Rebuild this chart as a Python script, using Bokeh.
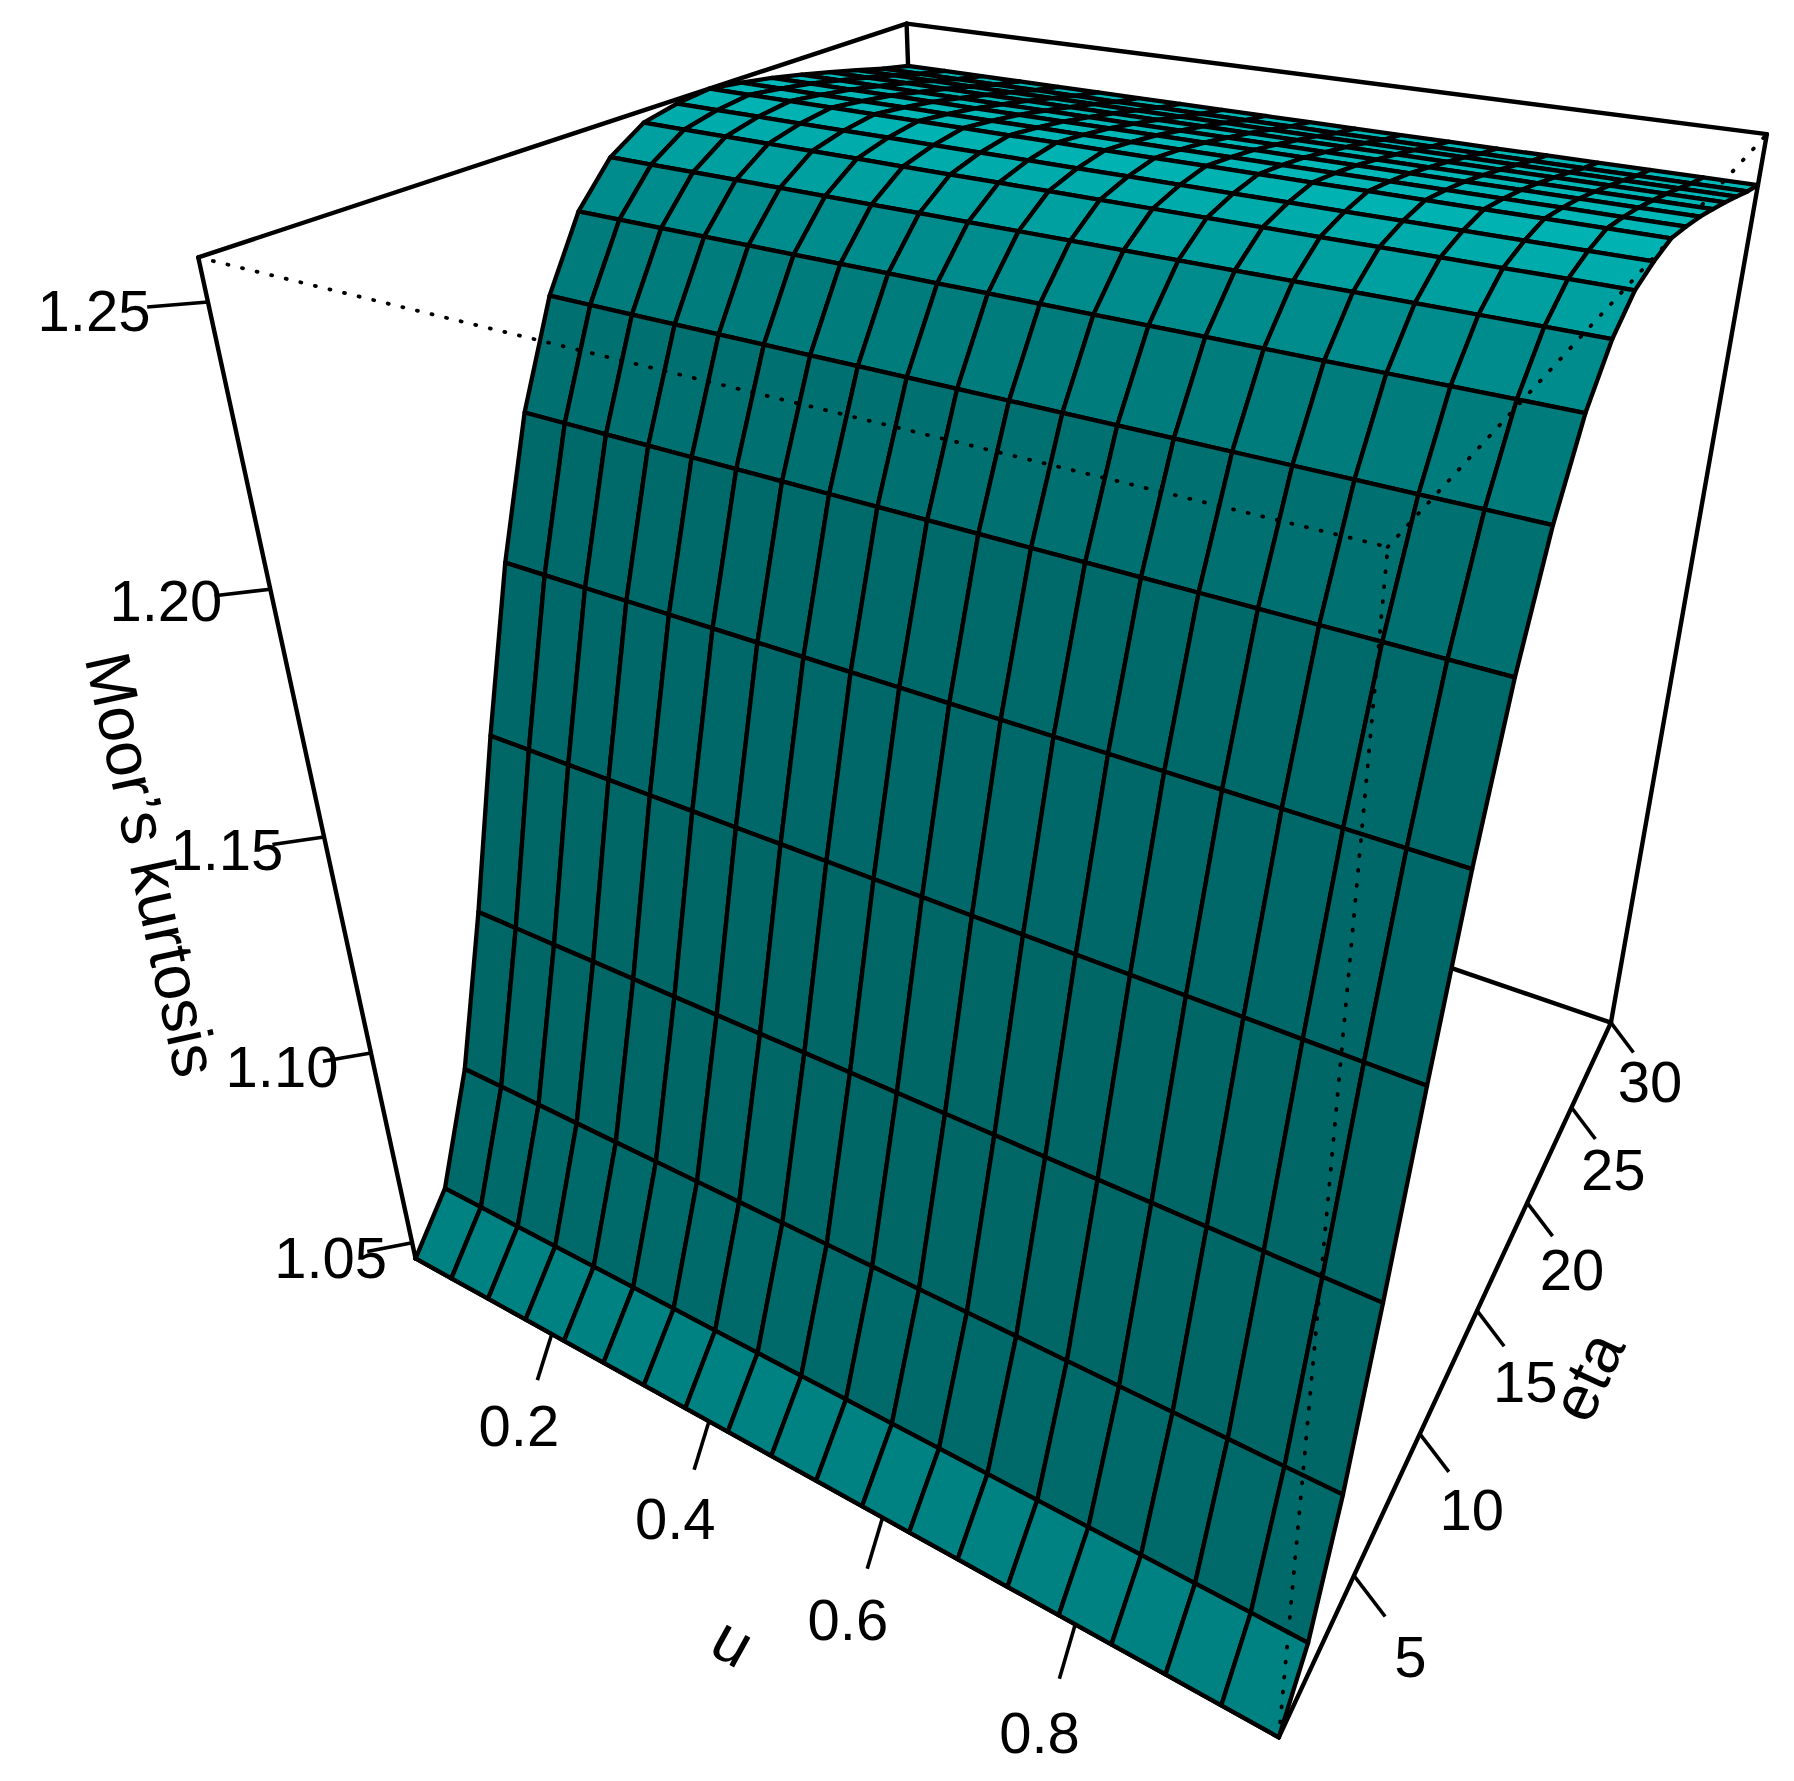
import math
import numpy as np
from bokeh.plotting import figure
from bokeh.embed import file_html
from bokeh.resources import INLINE
from bokeh.core.properties import value
from bokeh.models import Range1d

# ---- data ----
u_grid = [0.0100,0.0616,0.1132,0.1647,0.2163,0.2679,0.3195,0.3711,0.4226,0.4742,
          0.5258,0.5774,0.6289,0.6805,0.7321,0.7837,0.8353,0.8868,0.9384,0.9900]
eta_grid = [0.10,1.67,3.25,4.82,6.39,7.97,9.54,11.12,12.69,14.26,
            15.84,17.41,18.98,20.56,22.13,23.70,25.28,26.85,28.43,30.00]
kurtosis = [1.0456,1.0560,1.0799,1.1128,1.1487,1.1820,1.2092,1.2291,1.2426,1.2505,
            1.2548,1.2563,1.2571,1.2562,1.2551,1.2537,1.2522,1.2506,1.2489,1.2475]
u_ticks = [0.2,0.4,0.6,0.8]
u_tick_labels = ["0.2","0.4","0.6","0.8"]
eta_ticks = [5,10,15,20,25,30]
eta_tick_labels = ["5","10","15","20","25","30"]
z_ticks = [1.05,1.10,1.15,1.20,1.25]
z_tick_labels = ["1.05","1.10","1.15","1.20","1.25"]

# ---- style ----
row_colors = ["#008282","#006A6A","#006666","#006666","#006868","#006A6A","#007070","#007C7C","#008C8C","#00A0A0",
              "#00ABAB","#00B2B2","#00B6B6","#00B8B8","#00B8B8","#00B8B8","#00B8B8","#00B8B8","#00B8B8"]
FONT = "Liberation Sans"
W, H = 1778, 1765

# ---- camera: persp() style projective view of the unit box ----
CAM = np.array([[580.90784, 875.16853, -267.51621, 415.06388],
                [95.29213, -165.59433, -1066.28461, 1257.94661],
                [-0.22086, 0.38275, -0.25403, 1.0]])
umin, umax = min(u_grid), max(u_grid)
emin, emax = min(eta_grid), max(eta_grid)
zmin, zmax = min(kurtosis), max(kurtosis)
def cu(v): return (v-umin)/(umax-umin)
def ce(v): return (v-emin)/(emax-emin)
def cz(v): return (v-zmin)/(zmax-zmin)
def proj(a, b, c):
    v = CAM @ np.array([a, b, c, 1.0])
    return v[0]/v[2], 1781 - v[1]/v[2]
def seg(p, q):
    a, b = proj(*p), proj(*q)
    return [a[0], b[0]], [a[1], b[1]]
def ang(p, q):
    a, b = proj(*p), proj(*q)
    return math.atan2(b[1]-a[1], b[0]-a[0])

p = figure(width=W, height=H, output_backend="svg", toolbar_location=None,
           x_range=Range1d(0, W), y_range=Range1d(1781-H, 1781), min_border=0)
p.axis.visible = False
p.grid.visible = False
p.outline_line_color = None

# solid box edges
solid = [((0,0,0),(1,0,0)),((1,0,0),(1,1,0)),((1,1,0),(0,1,0)),((0,1,0),(0,0,0)),
         ((0,0,0),(0,0,1)),((1,1,0),(1,1,1)),((0,1,0),(0,1,1)),
         ((0,0,1),(0,1,1)),((0,1,1),(1,1,1))]
xs, ys = zip(*[seg(a,b) for a,b in solid])
p.multi_line(list(xs), list(ys), line_color="black", line_width=4.4, line_join="round", line_cap="round")

# surface, back to front
fx, fy, fc = [], [], []
for j in range(len(eta_grid)-2, -1, -1):
    for i in range(len(u_grid)-1):
        corners = [(cu(u_grid[i]), ce(eta_grid[j]), cz(kurtosis[j])),
                   (cu(u_grid[i+1]), ce(eta_grid[j]), cz(kurtosis[j])),
                   (cu(u_grid[i+1]), ce(eta_grid[j+1]), cz(kurtosis[j+1])),
                   (cu(u_grid[i]), ce(eta_grid[j+1]), cz(kurtosis[j+1]))]
        pts = [proj(*c) for c in corners]
        fx.append([q[0] for q in pts]); fy.append([q[1] for q in pts]); fc.append(row_colors[j])
p.patches(fx, fy, fill_color=fc, line_color="black", line_width=4.3, line_join="round")

# hidden front edges, dotted
dotted = [((0,0,1),(1,0,1)),((1,0,1),(1,1,1)),((1,0,0),(1,0,1))]
xs, ys = zip(*[seg(a,b) for a,b in dotted])
p.multi_line(list(xs), list(ys), line_color="black", line_width=3.8, line_dash="1 14", line_cap="round")

# ticks and tick labels
ztick = (-0.032, -0.032); zlab = (-0.055, -0.055)
utick = (-0.0275, -0.0350); etick = (0.0325, -0.0300)
tx, ty = [], []
def labels(xy, txt, dx):
    p.text([q[0]+d for q, d in zip(xy, dx)], [q[1] for q in xy], text=txt, text_font=value(FONT), text_font_size="58px",
           text_color="black", text_align="center", text_baseline="middle")
zl, ul, el = [], [], []
for v in z_ticks:
    c = cz(v)
    a, b = seg((0,0,c), (ztick[0], ztick[1], c)); tx.append(a); ty.append(b)
    zl.append(proj(zlab[0], zlab[1], c))
for v in u_ticks:
    c = cu(v)
    a, b = seg((c,0,0), (c, utick[0], utick[1])); tx.append(a); ty.append(b)
    ul.append(proj(c, 2*utick[0], 2*utick[1]))
for v in eta_ticks:
    c = ce(v)
    a, b = seg((1,c,0), (1+etick[0], c, etick[1])); tx.append(a); ty.append(b)
    el.append(proj(1+2*etick[0], c, 2*etick[1]))
p.multi_line(tx, ty, line_color="black", line_width=3.6)
labels(zl, z_tick_labels, [-4,-6,-8,-8,-9])
labels(ul, u_tick_labels, [-4]*4)
labels(el, eta_tick_labels, [-6]*6)

# axis titles
titles = [("Moor\u2019s kurtosis", proj(4*ztick[0], 4*ztick[1], 0.5), ang((0,0,1),(0,0,0)), 40, 3),
          ("u", proj(0.5, 4*utick[0], 4*utick[1]), ang((0,0,0),(1,0,0)), 0, -27),
          ("eta", proj(1+4*etick[0], 0.5, 4*etick[1]), ang((1,0,0),(1,1,0)), 2, -75)]
for s, q, a, dx, dy in titles:
    p.text([q[0]], [q[1]], text=[s], angle=[a], text_font=value(FONT), text_font_size="64px", text_color="black",
           text_align="center", text_baseline="middle", x_offset=dx, y_offset=dy)

open("out.html", "w").write(file_html(p, INLINE))
